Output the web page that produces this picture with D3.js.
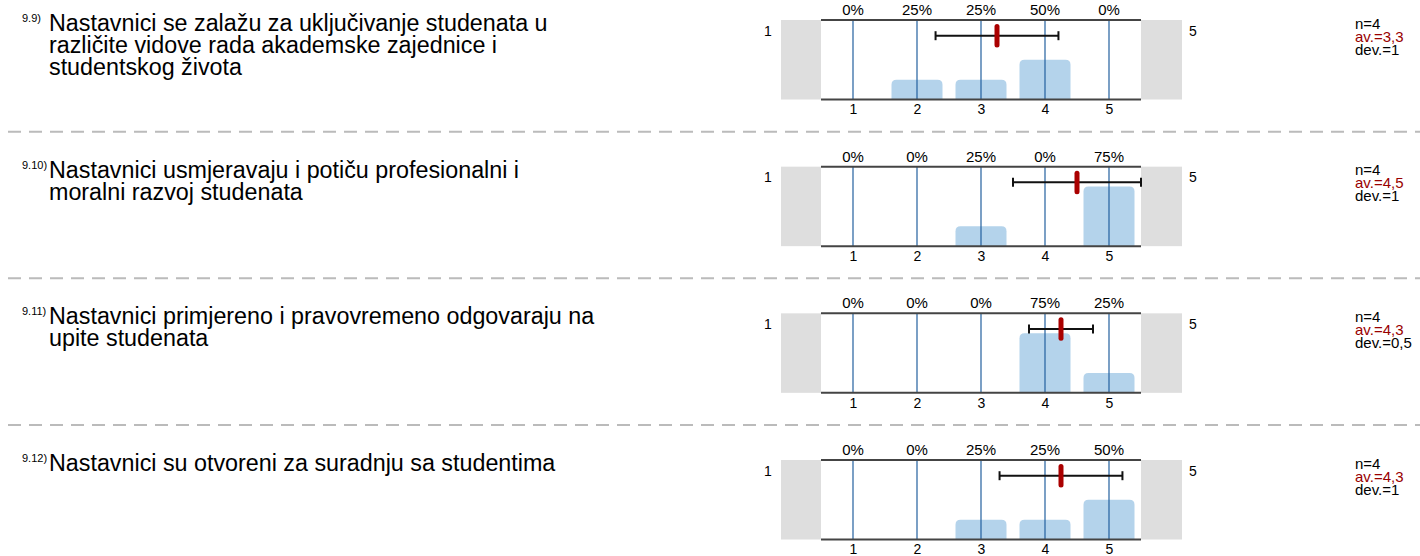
<!DOCTYPE html>
<head>
<meta charset="utf-8">
<style>
body { margin: 0; background: #fff; }
text { font-family: "Liberation Sans", Arial, sans-serif; }
</style>
</head>
<body>
<script src="https://d3js.org/d3.v7.min.js"></script>
<script>

// data
var qNums = ["9.9)", "9.10)", "9.11)", "9.12)"];
var qLines = [
  ["Nastavnici se zalažu za uključivanje studenata u", "različite vidove rada akademske zajednice i", "studentskog života"],
  ["Nastavnici usmjeravaju i potiču profesionalni i", "moralni razvoj studenata"],
  ["Nastavnici primjereno i pravovremeno odgovaraju na", "upite studenata"],
  ["Nastavnici su otvoreni za suradnju sa studentima"]
];
var scaleVals = [1, 2, 3, 4, 5];
var pcts = [
  [0, 25, 25, 50, 0],
  [0, 0, 25, 0, 75],
  [0, 0, 0, 75, 25],
  [0, 0, 25, 25, 50]
];
var nVals = [4, 4, 4, 4];
var avgs = [3.25, 4.5, 4.25, 4.25];
var devs = [0.96, 1, 0.5, 0.96];
var avLabels = ["3,3", "4,5", "4,3", "4,3"];
var devLabels = ["1", "1", "0,5", "1"];
var leftPole = "1", rightPole = "5";

var W = 1420, H = 556;
var blockH = 146.67, top0 = 20, panelH = 79.5;

var svg = d3.select("body").append("svg")
    .attr("width", W)
    .attr("height", H);

// x scale shared by all blocks
var x = d3.scaleLinear().domain([0.5, 5.5]).range([821, 1141]);
var y = d3.scaleLinear().domain([0, 100]).range([panelH, 0]);
var barW = 51;

qNums.forEach(function(num, i) {
  var g = svg.append("g")
      .attr("transform", "translate(0," + (top0 + i * blockH) + ")");

  // question number + text
  g.append("text")
      .attr("x", 22).attr("y", 2)
      .style("font-size", "11px")
      .text(num);
  g.selectAll(".q")
      .data(qLines[i])
    .enter().append("text")
      .attr("x", 49)
      .attr("y", function(d, j) { return 11 + j * 22; })
      .style("font-size", "23.3px")
      .text(function(d) { return d; });

  // grey side boxes
  g.append("rect").attr("x", 781).attr("y", 0)
      .attr("width", x(0.5) - 781).attr("height", panelH)
      .style("fill", "#dedede");
  g.append("rect").attr("x", x(5.5)).attr("y", 0)
      .attr("width", 41).attr("height", panelH)
      .style("fill", "#dedede");

  // poles
  g.append("text").attr("x", 768).attr("y", 15.5)
      .attr("text-anchor", "middle").style("font-size", "14px").text(leftPole);
  g.append("text").attr("x", 1193).attr("y", 15.5)
      .attr("text-anchor", "middle").style("font-size", "14px").text(rightPole);

  // bars
  var r = 5;
  g.selectAll(".bar")
      .data(pcts[i].map(function(p, k) { return {v: scaleVals[k], p: p}; })
            .filter(function(d) { return d.p > 0; }))
    .enter().append("path")
      .style("fill", "#b4d3eb")
      .attr("d", function(d) {
        var x0 = x(d.v) - barW / 2, x1 = x(d.v) + barW / 2;
        var yt = y(d.p), yb = y(0);
        return "M" + x0 + "," + yb + "V" + (yt + r) +
               "Q" + x0 + "," + yt + " " + (x0 + r) + "," + yt +
               "H" + (x1 - r) +
               "Q" + x1 + "," + yt + " " + x1 + "," + (yt + r) +
               "V" + yb + "Z";
      });

  // vertical scale lines
  g.selectAll(".tick")
      .data(scaleVals)
    .enter().append("line")
      .attr("x1", function(d) { return x(d); })
      .attr("x2", function(d) { return x(d); })
      .attr("y1", 0).attr("y2", panelH)
      .style("stroke", "#22609e")
      .style("stroke-width", 1.2);

  // top & bottom panel lines
  [0, panelH].forEach(function(yy) {
    g.append("line")
        .attr("x1", x(0.5)).attr("x2", x(5.5))
        .attr("y1", yy).attr("y2", yy)
        .style("stroke", "#444")
        .style("stroke-width", 2);
  });

  // percent labels
  g.selectAll(".pct")
      .data(pcts[i])
    .enter().append("text")
      .attr("x", function(d, k) { return x(scaleVals[k]); })
      .attr("y", -5)
      .attr("text-anchor", "middle")
      .style("font-size", "15px")
      .text(function(d) { return d + "%"; });

  // axis numbers
  var axis = d3.axisBottom(x).tickValues(scaleVals)
      .tickFormat(d3.format("d")).tickSize(0).tickPadding(5);
  var ax = g.append("g")
      .attr("transform", "translate(0," + panelH + ")")
      .call(axis);
  ax.select(".domain").remove();
  ax.selectAll("text")
      .style("font-size", "14px")
      .style("font-family", "Liberation Sans, Arial, sans-serif")
      .attr("fill", "#000");

  // std dev bar
  var ey = 15.7;
  var xa = x(avgs[i] - devs[i]), xb = x(Math.min(avgs[i] + devs[i], 5.5));
  g.append("line").attr("x1", xa).attr("x2", xb).attr("y1", ey).attr("y2", ey)
      .style("stroke", "#111").style("stroke-width", 2);
  [xa, xb].forEach(function(xx) {
    g.append("line").attr("x1", xx).attr("x2", xx)
        .attr("y1", ey - 4.5).attr("y2", ey + 4.5)
        .style("stroke", "#111").style("stroke-width", 2);
  });
  // mean marker
  g.append("line")
      .attr("x1", x(avgs[i])).attr("x2", x(avgs[i]))
      .attr("y1", 6.5).attr("y2", 25)
      .style("stroke", "#aa0000")
      .style("stroke-width", 5)
      .style("stroke-linecap", "round");

  // stats
  g.append("text").attr("x", 1355).attr("y", 8.5)
      .style("font-size", "15px").text("n=" + nVals[i]);
  g.append("text").attr("x", 1355).attr("y", 21.5)
      .style("font-size", "15px").style("fill", "#990000").text("av.=" + avLabels[i]);
  g.append("text").attr("x", 1355).attr("y", 34.5)
      .style("font-size", "15px").text("dev.=" + devLabels[i]);

  // separator
  if (i < qNums.length - 1) {
    g.append("line")
        .attr("x1", 8).attr("x2", W)
        .attr("y1", 111.7).attr("y2", 111.7)
        .style("stroke", "#bbb")
        .style("stroke-width", 2)
        .style("stroke-dasharray", "13,8");
  }
});

</script>
</body>
